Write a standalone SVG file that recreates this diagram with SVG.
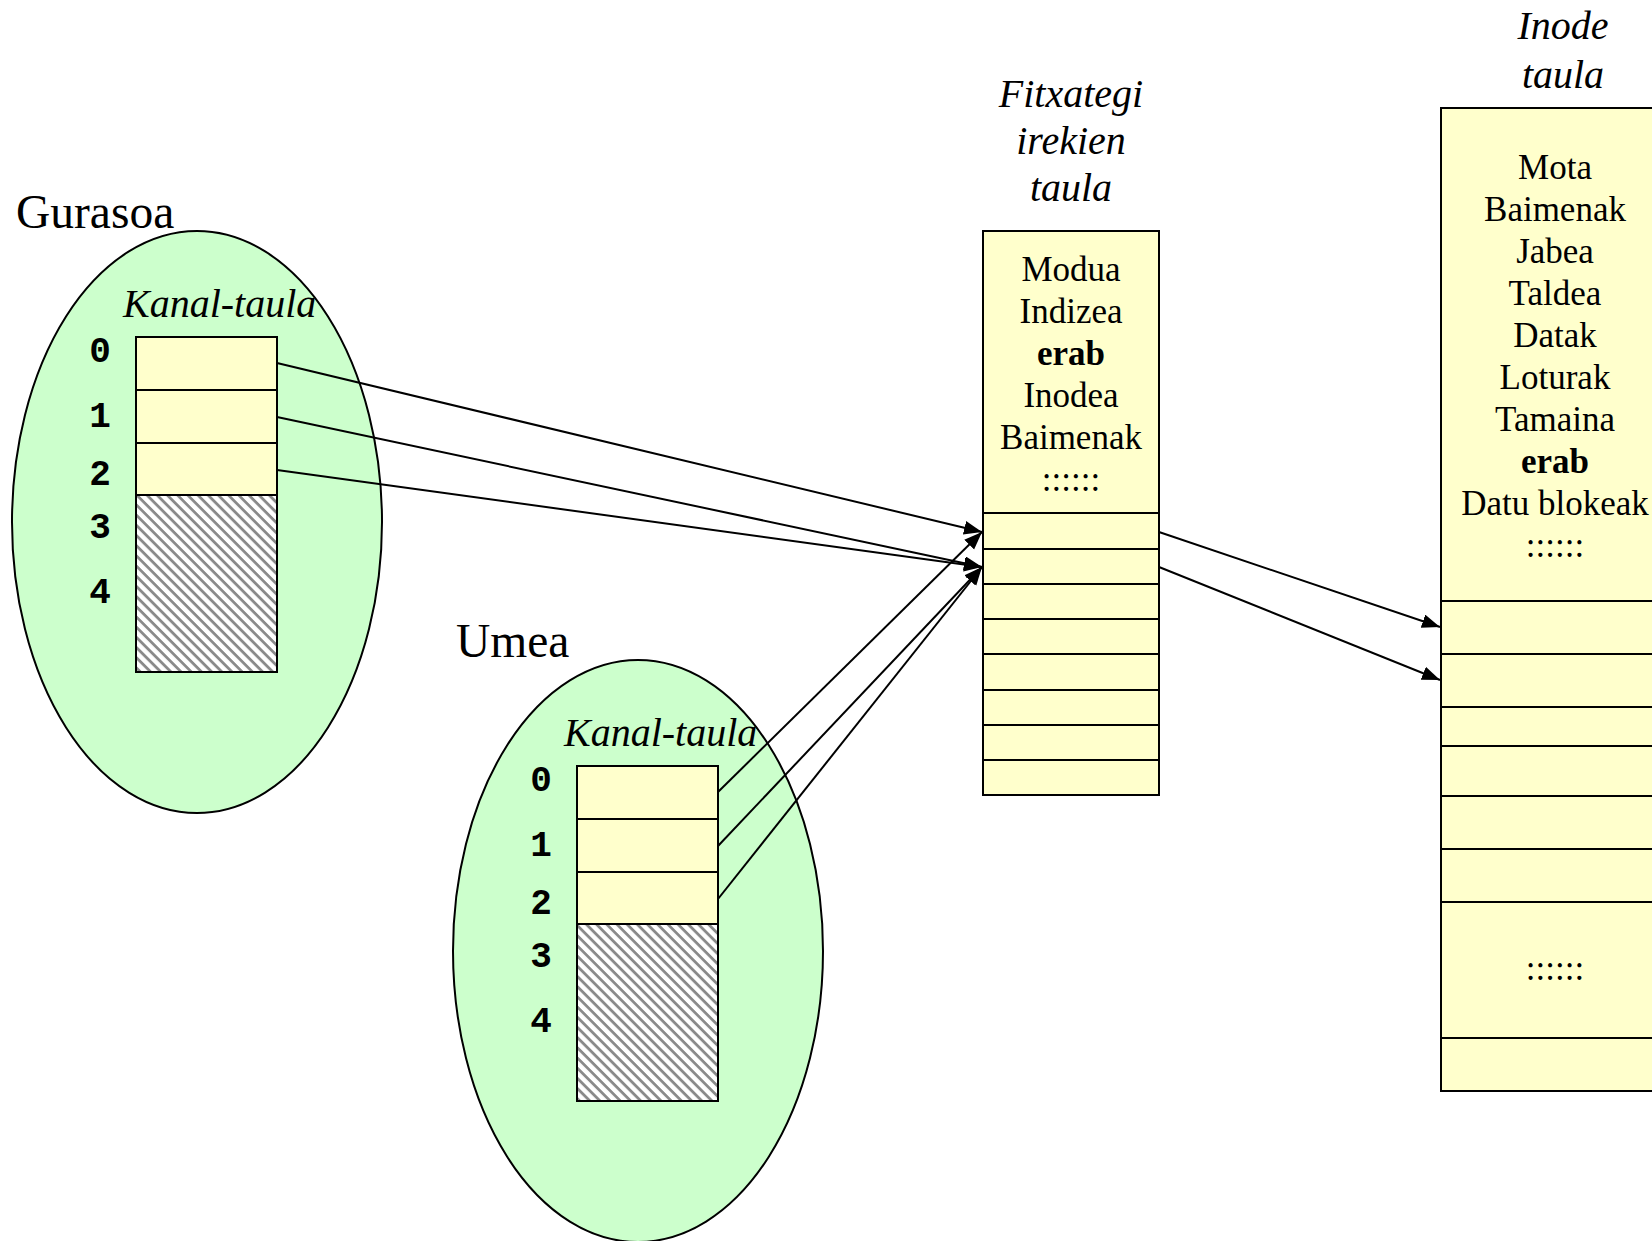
<svg xmlns="http://www.w3.org/2000/svg" width="1652" height="1241" viewBox="0 0 1652 1241">
<style>
.ell{fill:#CCFFCC;stroke:#000;stroke-width:2}
.cell{fill:#FFFFCC;stroke:#000;stroke-width:2}
.hatch{fill:url(#hatch);stroke:#000;stroke-width:2}
.ln{stroke:#000;stroke-width:2;fill:none}
.con{stroke:#000;stroke-width:2;fill:none;marker-end:url(#arr)}
.t{font-family:"Liberation Serif","Times New Roman",serif;font-size:35px;fill:#000;text-anchor:middle}
.ti{font-family:"Liberation Serif","Times New Roman",serif;font-size:40px;font-style:italic;fill:#000;text-anchor:middle}
.big{font-family:"Liberation Serif","Times New Roman",serif;font-size:47.5px;fill:#000}
.kt{font-family:"Liberation Serif","Times New Roman",serif;font-size:40px;font-style:italic;fill:#000}
.num{font-family:"Liberation Mono","Courier New",monospace;font-size:36px;font-weight:bold;fill:#000;text-anchor:middle}
.b{font-weight:bold}
</style>
<defs>
<pattern id="hatch" patternUnits="userSpaceOnUse" width="7.2" height="7.2" patternTransform="rotate(45)">
<rect width="7.2" height="7.2" fill="#fff"/>
<rect y="0" width="7.2" height="2.8" fill="#8a8a8a"/>
</pattern>
<marker id="arr" markerWidth="20" markerHeight="16" refX="18" refY="7" orient="auto" markerUnits="userSpaceOnUse">
<path d="M0,0 L18,7 L0,14 Z" fill="#000"/>
</marker>
</defs>

<g id="gurasoa">
<ellipse class="ell" cx="197" cy="522" rx="185" ry="291"/>
<text class="big" x="16" y="228">Gurasoa</text>
<text class="kt" x="123" y="317">Kanal-taula</text>
<rect class="cell" x="136" y="337" width="141" height="53"/>
<rect class="cell" x="136" y="390" width="141" height="53"/>
<rect class="cell" x="136" y="443" width="141" height="52"/>
<rect class="hatch" x="136" y="495" width="141" height="177"/>
<text class="num" x="100" y="362">0</text>
<text class="num" x="100" y="427">1</text>
<text class="num" x="100" y="485">2</text>
<text class="num" x="100" y="538">3</text>
<text class="num" x="100" y="603">4</text>
</g>

<g id="umea">
<ellipse class="ell" cx="638" cy="951" rx="185" ry="291"/>
<text class="big" x="456" y="657">Umea</text>
<text class="kt" x="564" y="746">Kanal-taula</text>
<rect class="cell" x="577" y="766" width="141" height="53"/>
<rect class="cell" x="577" y="819" width="141" height="53"/>
<rect class="cell" x="577" y="872" width="141" height="52"/>
<rect class="hatch" x="577" y="924" width="141" height="177"/>
<text class="num" x="541" y="791">0</text>
<text class="num" x="541" y="856">1</text>
<text class="num" x="541" y="914">2</text>
<text class="num" x="541" y="967">3</text>
<text class="num" x="541" y="1032">4</text>
</g>

<g id="fitxategi">
<text class="ti" x="1071" y="107">Fitxategi</text>
<text class="ti" x="1071" y="154">irekien</text>
<text class="ti" x="1071" y="201">taula</text>
<rect class="cell" x="983" y="231" width="176" height="564"/>
<path class="ln" d="M983,513H1159M983,549H1159M983,584H1159M983,619H1159M983,654H1159M983,690H1159M983,725H1159M983,760H1159"/>
<text class="t" x="1071" y="281">Modua</text>
<text class="t" x="1071" y="323">Indizea</text>
<text class="t b" x="1071" y="365">erab</text>
<text class="t" x="1071" y="407">Inodea</text>
<text class="t" x="1071" y="449">Baimenak</text>
<text class="t" x="1071" y="491">::::::</text>
</g>

<g id="inode">
<text class="ti" x="1563" y="39">Inode</text>
<text class="ti" x="1563" y="88">taula</text>
<rect class="cell" x="1441" y="108" width="230" height="983"/>
<path class="ln" d="M1441,601H1652M1441,654H1652M1441,707H1652M1441,746H1652M1441,796H1652M1441,849H1652M1441,902H1652M1441,1038H1652"/>
<text class="t" x="1555" y="179">Mota</text>
<text class="t" x="1555" y="221">Baimenak</text>
<text class="t" x="1555" y="263">Jabea</text>
<text class="t" x="1555" y="305">Taldea</text>
<text class="t" x="1555" y="347">Datak</text>
<text class="t" x="1555" y="389">Loturak</text>
<text class="t" x="1555" y="431">Tamaina</text>
<text class="t b" x="1555" y="473">erab</text>
<text class="t" x="1555" y="515">Datu blokeak</text>
<text class="t" x="1555" y="557">::::::</text>
<text class="t" x="1555" y="980">::::::</text>
</g>

<g id="connectors">
<line class="con" x1="277" y1="363" x2="982" y2="532"/>
<line class="con" x1="277" y1="417" x2="982" y2="567"/>
<line class="con" x1="277" y1="470" x2="982" y2="567"/>
<line class="con" x1="718" y1="792" x2="982" y2="532"/>
<line class="con" x1="718" y1="846" x2="982" y2="567"/>
<line class="con" x1="718" y1="899" x2="982" y2="567"/>
<line class="con" x1="1159" y1="532" x2="1440" y2="627"/>
<line class="con" x1="1159" y1="567" x2="1440" y2="680"/>
</g>
</svg>
